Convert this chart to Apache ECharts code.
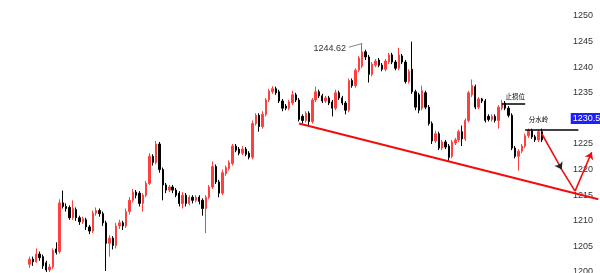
<!DOCTYPE html>
<html>
<head>
<meta charset="utf-8">
<script src="https://cdn.jsdelivr.net/npm/echarts@6/dist/echarts.min.js"></script>
<style>html,body{margin:0;padding:0;background:#fff;}#c{width:600px;height:273px;}</style>
</head>
<body>
<div id="c"></div>
<script>
// ---- data ----
const opens = [1201.5,1202.5,1202.0,1203.5,1203.0,1201.8,1200.4,1201.0,1204.5,1204.0,
1213.5,1212.8,1212.6,1210.6,1212.2,1210.6,1209.8,1210.2,1208.8,1208.0,
1211.5,1212.0,1211.4,1209.6,1205.6,1206.6,1205.2,1209.0,1209.6,1209.0,
1211.8,1214.0,1215.6,1215.4,1213.4,1215.0,1217.3,1222.6,1221.4,1225.0,
1220.0,1217.0,1216.0,1216.6,1216.0,1215.4,1213.4,1215.0,1213.4,1214.6,
1214.0,1214.6,1214.0,1212.4,1214.6,1216.6,1220.6,1217.6,1215.4,1219.2,
1220.2,1221.2,1224.6,1224.0,1223.2,1224.0,1223.2,1222.4,1229.0,1230.6,
1228.4,1230.8,1233.6,1235.2,1235.8,1235.2,1233.4,1232.4,1232.0,1233.0,
1234.6,1233.6,1230.4,1229.6,1231.0,1229.4,1233.6,1235.2,1234.4,1233.4,
1234.0,1233.2,1232.0,1235.0,1234.0,1233.0,1231.6,1237.4,1236.4,1239.4,
1240.2,1243.0,1242.0,1238.6,1240.4,1241.4,1240.4,1239.6,1241.0,1242.4,
1241.0,1239.8,1242.2,1241.0,1237.2,1239.6,1235.2,1234.6,1232.0,1235.0,
1232.2,1229.0,1225.6,1227.0,1224.2,1225.4,1224.6,1222.6,1225.2,1225.8,
1227.4,1226.0,1229.6,1234.6,1236.2,1232.2,1233.8,1233.4,1230.4,1229.8,
1230.4,1229.6,1232.0,1233.0,1232.0,1230.6,1224.2,1222.6,1223.6,1224.6,
1226.6,1227.6,1226.4,1225.8,1227.4];
const closes = [1202.5,1202.0,1203.5,1202.8,1201.2,1200.4,1201.0,1204.2,1203.8,1213.5,
1212.8,1212.4,1210.6,1212.4,1210.6,1209.8,1210.4,1208.8,1208.0,1211.5,
1212.0,1211.4,1209.6,1205.6,1206.6,1205.2,1209.0,1209.6,1209.0,1211.8,
1214.0,1215.6,1215.0,1213.4,1215.0,1217.3,1222.6,1221.4,1225.0,1220.0,
1217.0,1216.0,1216.6,1216.0,1215.0,1213.4,1215.0,1213.4,1214.6,1214.0,
1214.6,1213.8,1212.4,1214.6,1216.6,1220.6,1217.6,1215.4,1219.4,1220.4,
1221.4,1224.6,1223.8,1223.2,1224.0,1223.0,1222.4,1229.0,1230.6,1228.4,
1230.8,1233.6,1235.4,1235.8,1235.0,1233.4,1232.0,1232.0,1233.2,1234.6,
1233.6,1229.8,1229.6,1231.0,1229.4,1233.6,1235.2,1234.4,1233.4,1234.0,
1233.0,1232.0,1235.0,1234.0,1233.0,1231.6,1237.4,1236.4,1239.4,1241.8,
1243.0,1242.0,1238.6,1240.6,1241.2,1240.4,1239.6,1241.2,1242.4,1241.0,
1239.8,1242.4,1241.0,1237.2,1239.2,1235.2,1232.2,1231.6,1235.4,1232.2,
1229.0,1225.6,1227.0,1224.2,1225.4,1224.4,1222.4,1225.4,1225.8,1227.4,
1226.0,1229.6,1235.0,1236.4,1232.2,1233.8,1233.4,1229.6,1229.8,1230.4,
1229.6,1232.2,1233.0,1232.0,1230.6,1224.2,1222.6,1223.6,1224.6,1226.6,
1227.6,1226.4,1225.8,1227.4,1225.8];
const lows = [1200.8,1201.2,1201.8,1202.2,1200.6,1200.0,1200.0,1200.6,1203.4,1203.6,
1212.4,1211.8,1210.2,1210.2,1210.0,1209.2,1209.4,1208.2,1207.4,1207.6,
1211.0,1210.8,1209.0,1200.2,1203.0,1204.4,1204.6,1208.4,1208.2,1208.6,
1211.2,1213.6,1214.4,1212.8,1211.8,1214.6,1217.0,1220.8,1221.0,1219.4,
1214.0,1215.4,1215.6,1215.4,1214.6,1212.8,1212.4,1212.8,1213.0,1213.4,
1213.6,1213.2,1211.0,1207.6,1214.2,1216.2,1217.2,1214.6,1215.0,1218.8,
1219.8,1220.8,1223.4,1222.8,1222.8,1222.6,1222.0,1222.0,1228.6,1227.4,
1228.0,1230.4,1233.2,1234.8,1234.6,1233.0,1231.4,1231.6,1231.6,1232.6,
1233.2,1229.4,1229.0,1229.2,1228.4,1229.0,1233.2,1234.0,1233.0,1233.0,
1232.6,1230.4,1231.6,1233.6,1232.6,1230.8,1231.2,1236.0,1236.0,1239.0,
1239.8,1241.4,1237.0,1238.2,1240.0,1240.0,1239.2,1239.2,1240.6,1240.6,
1239.4,1239.4,1240.6,1236.8,1236.8,1234.8,1231.6,1231.0,1231.6,1231.8,
1228.6,1225.0,1225.2,1223.8,1223.8,1224.0,1221.7,1222.2,1224.8,1225.4,
1224.6,1225.6,1229.2,1234.2,1231.8,1231.8,1233.0,1229.2,1229.4,1229.4,
1229.2,1228.0,1231.6,1231.6,1230.2,1223.8,1222.2,1219.8,1223.2,1224.2,
1226.2,1226.0,1225.4,1225.4,1225.4];
const highs = [1203.0,1203.0,1204.6,1204.0,1203.4,1202.2,1201.6,1204.6,1205.8,1214.2,
1215.9,1213.4,1213.0,1214.0,1212.6,1211.0,1210.8,1210.6,1209.2,1212.0,
1212.6,1212.4,1211.8,1210.0,1207.2,1207.0,1209.6,1210.2,1210.0,1212.4,
1214.6,1216.2,1216.0,1215.8,1215.4,1217.8,1223.2,1223.0,1225.6,1225.4,
1220.4,1217.4,1217.0,1217.0,1216.4,1215.8,1215.6,1215.4,1215.0,1215.0,
1215.0,1215.0,1214.4,1215.0,1217.0,1221.6,1221.0,1218.0,1220.0,1220.8,
1221.8,1225.0,1225.0,1224.4,1224.6,1224.4,1223.6,1229.6,1231.0,1231.0,
1231.4,1234.0,1235.8,1236.3,1236.2,1235.6,1233.8,1232.8,1233.6,1235.4,
1235.0,1234.0,1230.8,1231.4,1231.4,1234.0,1236.2,1235.6,1234.8,1234.4,
1234.4,1233.6,1235.6,1235.4,1234.4,1233.4,1237.8,1237.8,1239.8,1242.2,
1244.62,1243.4,1242.4,1241.0,1241.6,1241.8,1240.8,1241.6,1242.8,1242.8,
1241.4,1243.8,1242.6,1241.4,1239.6,1245.0,1235.6,1235.0,1236.4,1235.4,
1232.6,1229.4,1227.6,1227.4,1225.8,1225.8,1225.0,1225.8,1226.2,1227.8,
1228.6,1230.0,1235.4,1237.6,1236.6,1234.2,1234.0,1233.8,1230.8,1230.8,
1230.8,1232.6,1233.6,1233.4,1232.4,1231.0,1224.6,1224.0,1225.0,1227.0,
1228.0,1228.0,1226.8,1227.8,1228.0];
const slotCount = 172;               // candle slots across the plot (empty ones on the right)
const categories = Array.from({length: slotCount}, (_, i) => String(i + 1));
const yTicks = {min: 1200, max: 1250, step: 5};
const highLabel = 1244.62;
const lastPrice = 1230.58;
const trendLine = [[81, 1229.0], [171, 1214.2]];
const stopLine = [[142, 1232.9], [149, 1232.9]];
const pivotLine = [[149, 1227.8], [165, 1227.8]];
const downArrow = [[154, 1227.0], [159, 1221.2], [160, 1220.0], [164, 1215.8]];
const upArrow = [[164, 1215.8], [169, 1223.4]];
const highPointer = [[96, 1243.9], [100, 1244.62]];
const notes = [{text: '止损位', at: [146, 1234.2]}, {text: '分水岭', at: [153, 1229.7]}];

// ---- build ----
const candles = opens.map((o, i) => [o, closes[i], lows[i], highs[i]]);
const RED = '#ff4040';
function seg(a, b, color, width, endSymbol, extra) {
  return [Object.assign({coord: a, symbol: 'none', lineStyle: {color: color, width: width, type: 'solid'}, label: {show: false}}, extra || {}),
          {coord: b, symbol: endSymbol || 'none', symbolSize: 7}];
}
const chart = echarts.init(document.getElementById('c'), null, {renderer: 'canvas'});
chart.setOption({
  animation: false,
  backgroundColor: '#ffffff',
  grid: {left: 28, right: 0, top: 16, bottom: 1, outerBoundsMode: 'none', containLabel: false},
  xAxis: {type: 'category', data: categories, boundaryGap: true, show: false},
  yAxis: {
    type: 'value', position: 'right', min: yTicks.min, max: yTicks.max, interval: yTicks.step,
    axisLine: {show: false}, axisTick: {show: false}, splitLine: {show: false},
    axisLabel: {inside: true, align: 'left', margin: 27, fontSize: 9, color: '#333',
      formatter: v => String(v),
      fontFamily: 'Arial, "Liberation Sans", sans-serif', showMinLabel: true, showMaxLabel: true}
  },
  series: [{
    type: 'candlestick',
    data: candles,
    barWidth: '55%',
    clip: false,
    itemStyle: {color: RED, borderColor: RED, color0: '#000', borderColor0: '#000', borderWidth: 1},
    markLine: {
      silent: true, animation: false, symbol: ['none', 'none'],
      label: {show: false},
      emphasis: {disabled: true},
      data: [
        seg(trendLine[0], trendLine[1], '#f20d0d', 2),
        seg(stopLine[0], stopLine[1], '#000', 1.5),
        seg(pivotLine[0], pivotLine[1], '#000', 1.5),
        seg(downArrow[0], downArrow[1], '#f20d0d', 1.6),
        seg(downArrow[1], downArrow[2], '#222', 1.6, 'arrow'),
        seg(downArrow[2], downArrow[3], '#f20d0d', 1.6),
        seg(upArrow[0], upArrow[1], '#f20d0d', 1.6, 'arrow'),
        seg(highPointer[0], highPointer[1], '#666', 0.8, 'none',
          {label: {show: true, position: 'start', distance: 3, formatter: String(highLabel), fontSize: 9, color: '#333',
            fontFamily: 'Arial, "Liberation Sans", sans-serif'}})
      ]
    },
    markPoint: {
      silent: true, animation: false,
      symbol: 'circle', symbolSize: 0,
      data: notes.map(n => ({coord: n.at, value: n.text,
        label: {show: true, position: 'inside', formatter: n.text, fontSize: 6.5, color: '#000',
          fontFamily: '"Noto Sans CJK SC", sans-serif'}})).concat([{
        coord: [163, lastPrice], value: lastPrice,
        label: {show: true, position: 'inside', align: 'left', verticalAlign: 'middle', offset: [-1, 3],
          formatter: lastPrice.toFixed(2), fontSize: 9, color: '#fff', backgroundColor: '#1e1eff',
          padding: [1, 2, 1, 2], fontFamily: 'Arial, "Liberation Sans", sans-serif'}
      }])
    }
  }]
});
</script>
</body>
</html>
